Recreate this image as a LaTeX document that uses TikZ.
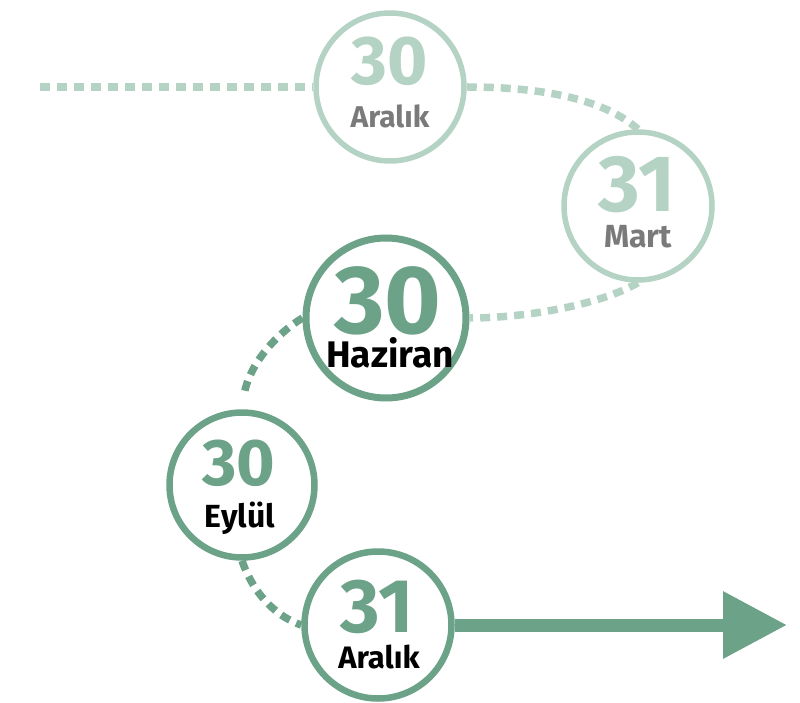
\documentclass[tikz,border=0pt]{standalone}
\usepackage{fontspec}
\setmainfont{Fira Sans}
\usetikzlibrary{arrows.meta}
\definecolor{dkgreen}{HTML}{6BA288}
\definecolor{ltgreen}{HTML}{B5D3C4}
\definecolor{txtgray}{HTML}{7A7A7A}
\tikzset{
  ring/.style={circle,draw,fill=white,inner sep=0pt},
  numtxt/.style={anchor=base,inner sep=0pt,font=\bfseries},
  dots/.style={line width=7.5pt,dash pattern=on 10pt off 7pt,line cap=butt},
}
\newcommand{\fsz}[1]{\fontsize{#1}{#1}\selectfont}
\begin{document}
\begin{tikzpicture}[x=1pt,y=-1pt]
\useasboundingbox (0,0) rectangle (800,703);
% circles
\node[ring,draw=ltgreen,line width=5.5pt,minimum size=148pt] (c1) at (390,87) {};
\node[ring,draw=ltgreen,line width=5.5pt,minimum size=148pt] (c2) at (638,206) {};
\node[ring,draw=dkgreen,line width=7pt,minimum size=160pt] (c3) at (386,318) {};
\node[ring,draw=dkgreen,line width=6.5pt,minimum size=145pt] (c4) at (242,485) {};
\node[ring,draw=dkgreen,line width=6.5pt,minimum size=147pt] (c5) at (378,625) {};
\coordinate (start) at (40,87);
\coordinate (tip) at (787,625);
% connectors
\draw[dots,ltgreen] (start) -- (c1.west);
\draw[dots,ltgreen] (c1.east) .. controls (545,87) and (605,100) .. (c2.north);
\draw[dots,ltgreen] (c2.south) .. controls (600,305) and (525,318) .. (c3.east);
\draw[dots,dkgreen,shorten >=16pt] (c3.west) .. controls (270,338) and (248,370) .. (c4.north);
\draw[dots,dkgreen] (c4.south) .. controls (255,598) and (280,618) .. (c5.west);
\draw[dkgreen,line width=13pt,-{Triangle[length=64pt,width=64pt]}] (c5.east) -- (tip);
% texts
\node[numtxt,ltgreen] (n1) at (390,85) {\fsz{69}30};
\node[numtxt,txtgray] (l1) at (390,128) {\fsz{30}Aralık};
\node[numtxt,ltgreen] (n2) at (637,212) {\fsz{80}31};
\node[numtxt,txtgray] (l2) at (638,248) {\fsz{32}Mart};
\node[numtxt,dkgreen] (n3) at (388,333) {\fsz{97}30};
\node[numtxt,black] (l3) at (390,367) {\fsz{37}Haziran};
\node[numtxt,dkgreen] (n4) at (239,485) {\fsz{66}30};
\node[numtxt,black] (l4) at (240,527) {\fsz{32}Eylül};
\node[numtxt,dkgreen] (n5) at (377,632) {\fsz{76}31};
\node[numtxt,black] (l5) at (379,668) {\fsz{31}Aralık};
\end{tikzpicture}
\end{document}
